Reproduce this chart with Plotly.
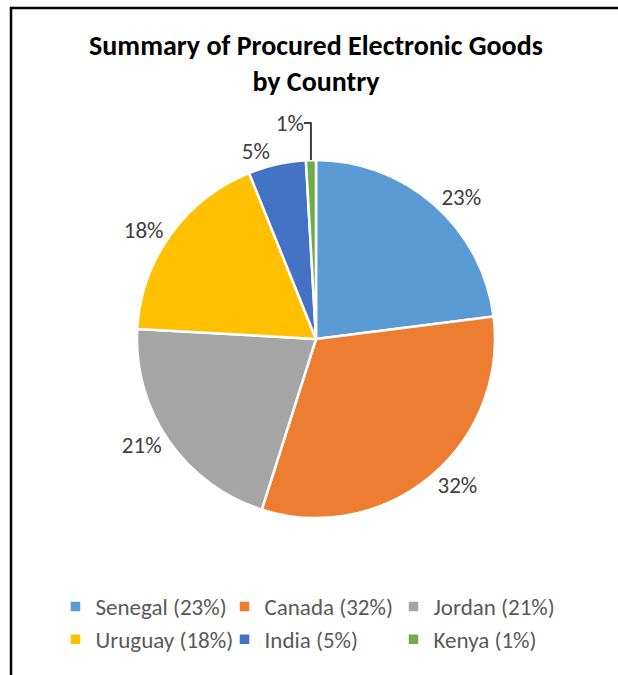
import plotly.graph_objects as go

countries = ["Senegal", "Canada", "Jordan", "Uruguay", "India", "Kenya"]
values = [23.0, 31.9, 21.0, 18.0, 5.2, 0.9]
colors = ["#5B9BD5", "#ED7D31", "#A5A5A5", "#FFC000", "#4472C4", "#70AD47"]
legend_pct = [23, 32, 21, 18, 5, 1]
title_lines = ["Summary of Procured Electronic Goods", "by Country"]

W, H = 618, 675
FONT = "Carlito, Lato, 'Open Sans', sans-serif"

names = [f"{c} ({p}%)" for c, p in zip(countries, legend_pct)]

cx, cy, r = 316, 339, 179

fig = go.Figure()
fig.add_trace(go.Pie(
    labels=names,
    values=values,
    sort=False,
    direction="clockwise",
    rotation=0,
    marker=dict(colors=colors, line=dict(color="white", width=2.5)),
    textposition="outside",
    texttemplate="%{percent:.0%}",
    textfont=dict(family=FONT, size=23, color="#404040"),
    domain=dict(x=[(cx - r) / W, (cx + r) / W], y=[1 - (cy + r) / H, 1 - (cy - r) / H]),
    hoverinfo="label+percent",
))

fig.update_layout(
    width=W, height=H,
    margin=dict(l=0, r=0, t=0, b=0),
    paper_bgcolor="white",
    plot_bgcolor="white",
    title=dict(
        text="<br>".join(title_lines),
        x=316 / W, xanchor="center",
        y=1 - 55 / H, yanchor="top",
        font=dict(family=FONT, size=28, color="#000000", weight="bold"),
    ),
    showlegend=True,
    legend=dict(
        orientation="h",
        x=0.5, xanchor="center",
        y=1 - 585 / H, yanchor="top",
        font=dict(family=FONT, size=23, color="#595959"),
        entrywidth=124,
        traceorder="normal",
    ),
    shapes=[
        dict(type="line", xref="paper", yref="paper", x0=10 / W, x1=1.0, y0=1 - 8 / H, y1=1 - 8 / H,
             line=dict(color="black", width=2.5)),
        dict(type="line", xref="paper", yref="paper", x0=11 / W, x1=11 / W, y0=1 - 7 / H, y1=0,
             line=dict(color="black", width=2.5)),
    ],
)

fig.write_html("out.html")
